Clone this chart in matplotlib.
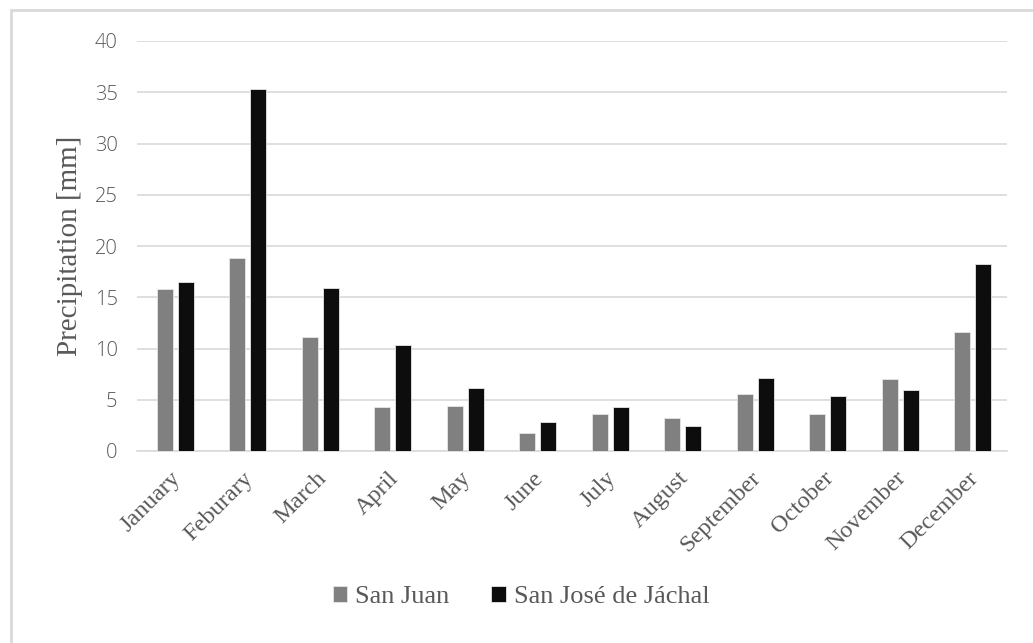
import numpy as np
import matplotlib.pyplot as plt
from matplotlib.patches import Rectangle

# Monthly precipitation (mm) for the two stations
months = ["January", "Feburary", "March", "April", "May", "June", "July",
          "August", "September", "October", "November", "December"]
san_juan = [15.8, 18.8, 11.1, 4.3, 4.4, 1.8, 3.6, 3.2, 5.6, 3.6, 7.0, 11.6]
jachal = [16.5, 35.3, 15.9, 10.3, 6.1, 2.8, 4.3, 2.4, 7.1, 5.4, 6.0, 18.2]
y_ticks = [0, 5, 10, 15, 20, 25, 30, 35, 40]

serif = "Liberation Serif"
sans = "Open Sans"
text_grey = "#595959"

fig = plt.figure(figsize=(10.33, 6.43), dpi=100)
ax = fig.add_axes([137 / 1033, 1 - 451 / 643, 870 / 1033, 410 / 643])

x = np.arange(len(months))
w = 0.22
ax.bar(x - 0.12, san_juan, width=w, color="#808080", edgecolor="#e6e6e6",
       linewidth=0.6, label="San Juan", zorder=3)
ax.bar(x + 0.17, jachal, width=w, color="#0d0d0d", edgecolor="#e6e6e6",
       linewidth=0.6, label="San José de Jáchal", zorder=3)

ax.set_xlim(-0.5, len(months) - 0.5)
ax.set_ylim(0, 40)
ax.set_yticks(y_ticks)
ax.set_yticklabels([str(t) for t in y_ticks], fontfamily=sans, fontsize=14.5,
                   color=text_grey, fontweight="light")
ax.yaxis.grid(True, color="#d9d9d9", linewidth=1.2, zorder=0)
ax.tick_params(axis="y", length=0, pad=14)
ax.tick_params(axis="x", length=0, pad=12)

ax.set_xticks(x - 0.04)
ax.set_xticklabels(months, rotation=45, ha="right", rotation_mode="anchor",
                   fontfamily=serif, fontsize=17.5, color=text_grey)

for side in ["top", "right", "left"]:
    ax.spines[side].set_visible(False)
ax.spines["bottom"].set_color("#d9d9d9")
ax.spines["bottom"].set_linewidth(1.2)

ax.set_ylabel("Precipitation [mm]", fontfamily=serif, fontsize=21,
              color=text_grey, labelpad=8)

leg = fig.legend(loc="center", bbox_to_anchor=(521 / 1033, 1 - 597 / 643),
                 ncol=2, frameon=False, prop={"family": serif, "size": 19},
                 handlelength=0.55, handleheight=0.55, handletextpad=0.3,
                 columnspacing=1.6)
for t in leg.get_texts():
    t.set_color(text_grey)

# light frame around the chart area
fig.patches.append(Rectangle((11 / 1033, -0.05), 1.1, 1 - 10 / 643 + 0.05,
                             transform=fig.transFigure, fill=False,
                             edgecolor="#d9d9d9", linewidth=2))

fig.savefig("out.png", dpi=100)
